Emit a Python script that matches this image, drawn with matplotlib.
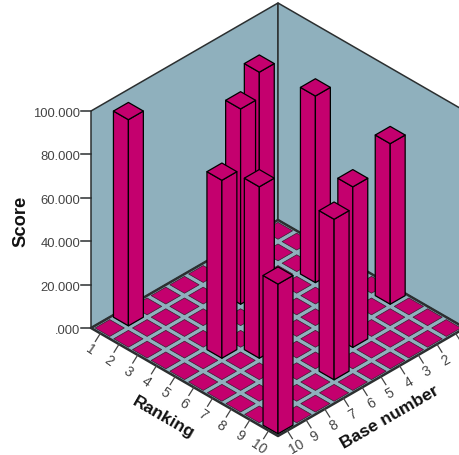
import matplotlib
matplotlib.use('agg')
import matplotlib.pyplot as plt
from matplotlib.patches import Polygon

plt.rcParams['font.family'] = ['Liberation Sans', 'DejaVu Sans']

# one bar per rank
ranking = [1, 2, 3, 4, 5, 6, 7, 8, 9, 10]
base_number = [9, 3, 5, 2, 8, 7, 1, 4, 6, 10]
score = [95, 92, 90, 86, 82, 79, 74, 74, 74, 69]

score_ticks = [0, 20, 40, 60, 80, 100]
score_labels = ['.000', '20.000', '40.000', '60.000', '80.000', '100.000']
rank_ticks = [1, 2, 3, 4, 5, 6, 7, 8, 9, 10]
base_ticks = [1, 2, 3, 4, 5, 6, 7, 8, 9, 10]
base_labels = ['', '2', '3', '4', '5', '6', '7', '8', '9', '10']  # 1 falls off the picture

WALL = '#8fb0bd'
BAR = '#c4006e'
DARK = '#2b2f30'
TEXT = '#444444'

def project(r, b, z=0):
    #isometric projection: floor cell coords + score to pixel position
    x = 278 + r * 18.7 - b * 18.7
    y = 221 + r * 10.8 + b * 10.8 - z * 2.17
    return x, y

def poly(ax, pts, color, edge, lw, zorder):
    ax.add_patch(Polygon(pts, closed=True, facecolor=color, edgecolor=edge, linewidth=lw, joinstyle='round', zorder=zorder))

fig = plt.figure(figsize=(4.6, 4.56), dpi=100)
ax = fig.add_axes([0, 0, 1, 1])
ax.set_xlim(0, 460)
ax.set_ylim(456, 0)
ax.axis('off')

#walls
poly(ax, [project(0, 10), project(0, 10, 100), project(0, 0, 100), project(0, 0)], WALL, DARK, 1.1, 1)
poly(ax, [project(10, 0), project(10, 0, 100), project(0, 0, 100), project(0, 0)], WALL, DARK, 1.1, 1)

#floor
poly(ax, [project(0, 0), project(10, 0), project(10, 10), project(0, 10)], WALL, DARK, 1.8, 2)
h = 0.39
for r in range(10):
    for b in range(10):
        cr, cb = r + 0.5, b + 0.5
        poly(ax, [project(cr - h, cb - h), project(cr + h, cb - h), project(cr + h, cb + h), project(cr - h, cb + h)], BAR, '#3a1a2c', 0.5, 3)

#bars, back to front
h = 0.4
order = sorted(range(len(score)), key=lambda i: ranking[i] + base_number[i])
for n, i in enumerate(order):
    cr, cb, z = ranking[i] - 0.5, base_number[i] - 0.5, score[i]
    zo = 4 + n
    poly(ax, [project(cr - h, cb + h), project(cr + h, cb + h), project(cr + h, cb + h, z), project(cr - h, cb + h, z)], BAR, 'black', 0.9, zo)
    poly(ax, [project(cr + h, cb - h), project(cr + h, cb + h), project(cr + h, cb + h, z), project(cr + h, cb - h, z)], BAR, 'black', 0.9, zo)
    poly(ax, [project(cr - h, cb - h, z), project(cr + h, cb - h, z), project(cr + h, cb + h, z), project(cr - h, cb + h, z)], BAR, 'black', 0.9, zo)

#score axis
for v, lab in zip(score_ticks, score_labels):
    x, y = project(0, 10, v)
    ax.plot([x - 10, x], [y, y], color=DARK, lw=1.1, zorder=2)
    ax.text(x - 10.5, y + 2, lab, ha='right', va='center', fontsize=9.4, color=TEXT)

#floor axes
for t in rank_ticks:
    x, y = project(t - 0.5, 10)
    ax.plot([x - 5, x], [y + 8, y], color=TEXT, lw=0.9, zorder=2)
    ax.text(x - 10, y + 15.5, str(t), ha='center', va='center', rotation=-35, fontsize=10, color=TEXT)
for t, lab in zip(base_ticks, base_labels):
    x, y = project(10, t - 0.5)
    ax.plot([x + 5, x], [y + 8, y], color=TEXT, lw=0.9, zorder=2)
    if lab:
        ax.text(x + 9, y + 15.5, lab, ha='center', va='center', rotation=30, fontsize=10, color=TEXT)

ax.text(21, 221, 'Score', rotation=90, ha='center', va='center', fontsize=13.2, fontweight='bold', color='#111111')
ax.text(163, 418, 'Ranking', rotation=-30, ha='center', va='center', fontsize=12.6, fontweight='bold', color='#111111', rotation_mode='anchor')
ax.text(390, 417, 'Base number', rotation=30, ha='center', va='center', fontsize=12.6, fontweight='bold', color='#111111', rotation_mode='anchor')

fig.savefig('out.png', dpi=100)
